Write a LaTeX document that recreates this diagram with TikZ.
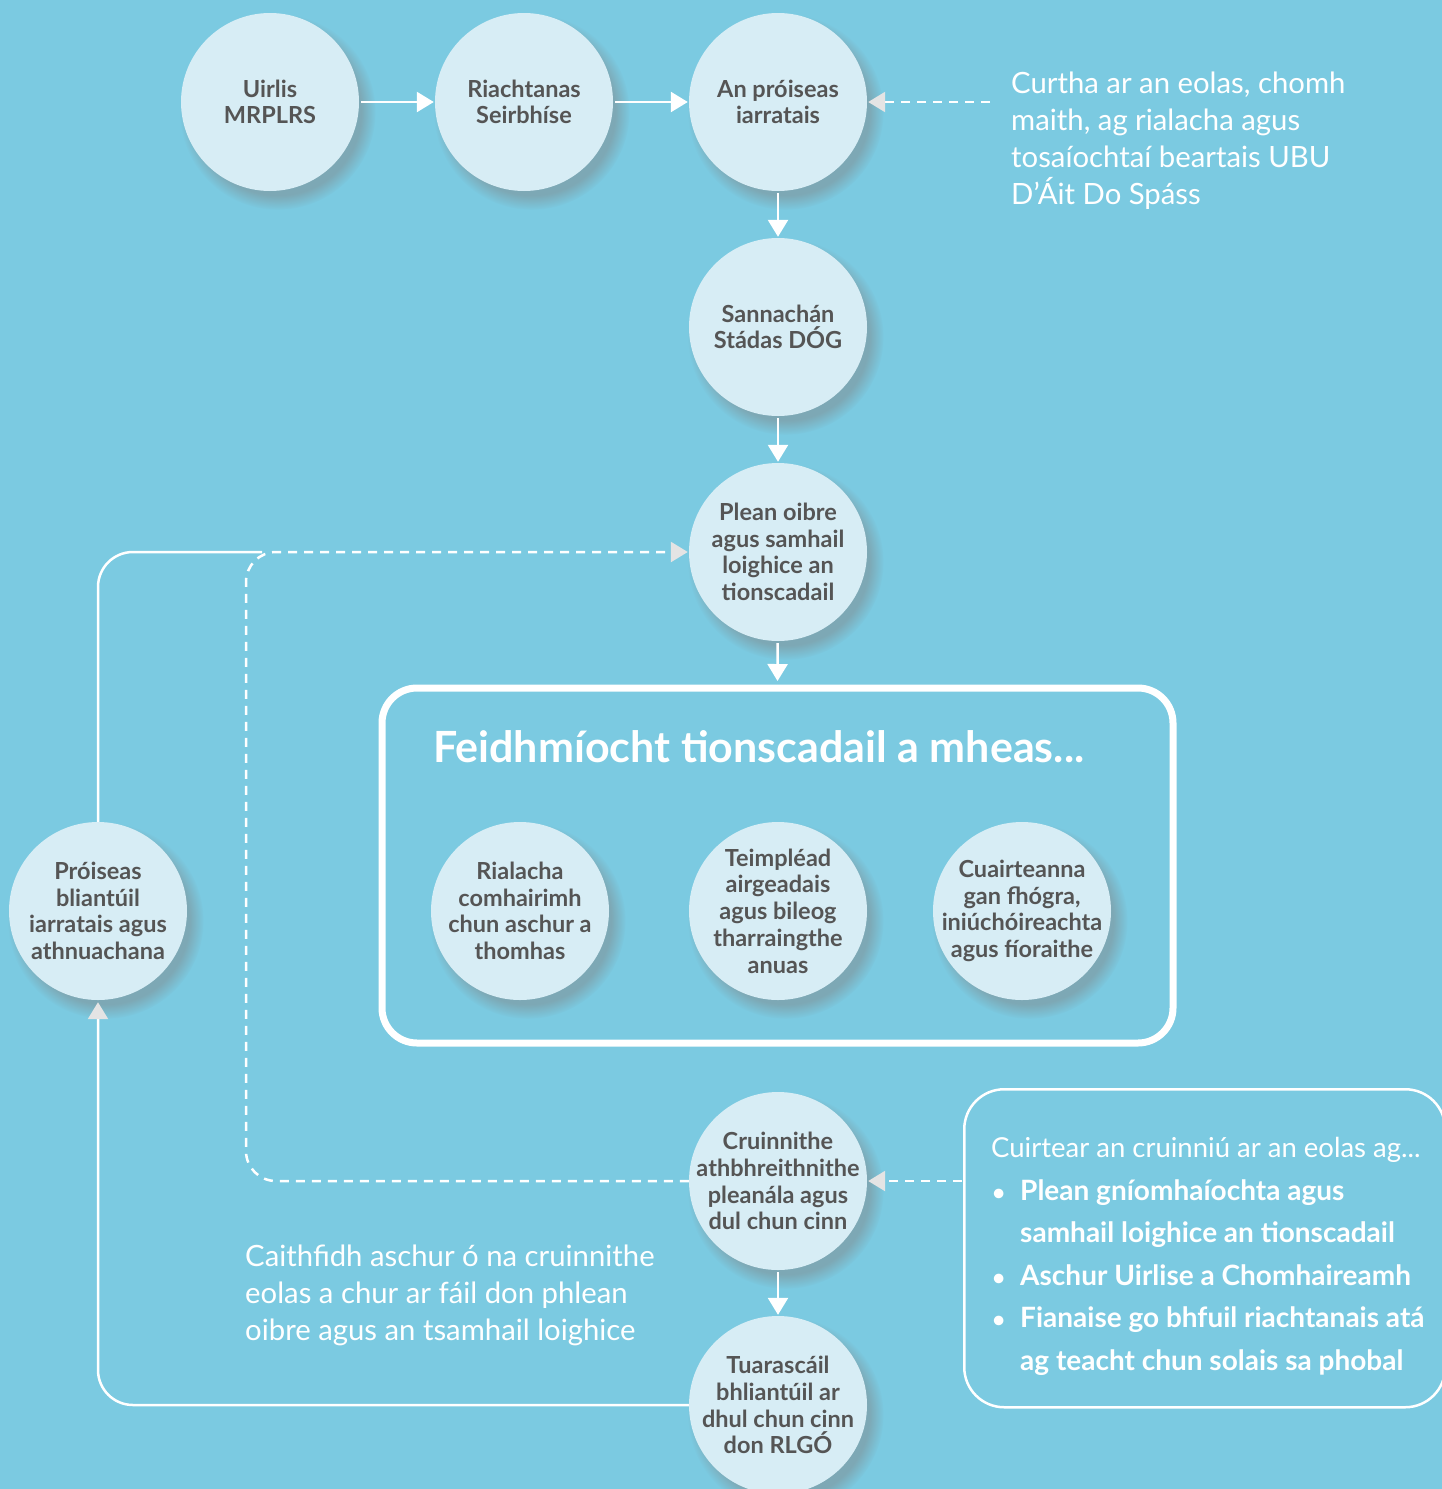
\documentclass[tikz,border=0pt]{standalone}
\usepackage{fontspec}
\setmainfont{Lato}
\usetikzlibrary{arrows.meta,shadows}
\definecolor{bg}{HTML}{7BCAE1}
\definecolor{circ}{HTML}{D7EDF5}
\definecolor{ctext}{HTML}{555555}
\definecolor{tipgray}{HTML}{E4E4E4}
\newcommand{\mybul}{\llap{{\fontsize{22}{22}\selectfont •}\hspace{15pt}}}
\begin{document}
\begin{tikzpicture}[x=1pt,y=-1pt,
  stage/.style={circle, fill=circ, minimum size=178pt, inner sep=-20pt, align=center,
    text=ctext, font=\bfseries\fontsize{23.5}{26.7}\selectfont,
    circular drop shadow={shadow xshift=7pt, shadow yshift=-9pt, shadow scale=1.1, opacity=0.45}},
  flow/.style={draw=white, line width=2.5pt, -{Triangle[width=20pt,length=17pt]}},
  flowg/.style={draw=white, line width=2.5pt, -{Triangle[width=20pt,length=17pt,color=tipgray]}},
  dflow/.style={flowg, dash pattern=on 9pt off 7pt},
  note/.style={anchor=north west, inner sep=0pt, align=left, text=white}
]
\fill[bg] (0,0) rectangle (1442,1489);
\useasboundingbox (0,0) rectangle (1442,1489);
\clip (0,0) rectangle (1442,1489);

% top row
\node[stage] (uirlis) at (270,102) {Uirlis\\MRPLRS};
\node[stage] (riach) at (524,102) {Riachtanas\\Seirbhíse};
\node[stage] (iarr) at (778,102) {An próiseas\\iarratais};
\node[stage] (sann) at (778,327) {Sannachán\\Stádas DÓG};
\node[stage] (plean) at (778,552) {Plean oibre\\agus samhail\\loighice an\\tionscadail};

% frame
\node[draw=white, line width=7pt, rounded corners=35pt, minimum width=791pt, minimum height=355pt, inner sep=0pt] (box) at (777.5,865.5) {};
\node[anchor=base west, inner sep=0pt, text=white, font=\bfseries\fontsize{43}{50}\selectfont] (title) at (433,762) {Feidhmíocht tionscadail a mheas...};

\node[stage] (rial) at (520,911) {Rialacha\\comhairimh\\chun aschur a\\thomhas};
\node[stage] (teimp) at (778,911) {Teimpléad\\airgeadais\\agus bileog\\tharraingthe\\anuas};
\node[stage] (cuairt) at (1022,911) {Cuairteanna\\gan fhógra,\\iniúchóireachta\\agus fíoraithe};

\node[stage] (proi) at (98,911) {Próiseas\\bliantúil\\iarratais agus\\athnuachana};

\node[stage] (cruin) at (778,1181) {Cruinnithe\\athbhreithnithe\\pleanála agus\\dul chun cinn};
\node[stage] (tuar) at (778,1405) {Tuarascáil\\bhliantúil ar\\dhul chun cinn\\don RLGÓ};

% notes
\node[note, font=\fontsize{29.3}{37}\selectfont] (note1) at (1011,72) {Curtha ar an eolas, chomh\\maith, ag rialacha agus\\tosaíochtaí beartais UBU\\D’Áit Do Spáss};
\node[note, font=\fontsize{29.3}{37}\selectfont] (note2) at (245,1245) {Caithfidh aschur ó na cruinnithe\\eolas a chur ar fáil don phlean\\oibre agus an tsamhail loighice};

\node[draw=white, line width=2.5pt, rounded corners=40pt, minimum width=481pt, minimum height=318pt, inner sep=0pt, anchor=north west] (infobox) at (963,1088) {};
\node[note, font=\fontsize{27.5}{30}\selectfont] (infohead) at (991,1137) {Cuirtear an cruinniú ar an eolas ag...};
\node[note, font=\bfseries\fontsize{28}{42.5}\selectfont] (infolist) at (1020,1179) {\mybul Plean gníomhaíochta agus\\samhail loighice an tionscadail\\\mybul Aschur Uirlise a Chomhaireamh\\\mybul Fianaise go bhfuil riachtanais atá\\ag teacht chun solais sa phobal};

% connectors
\draw[flow, shorten <=2pt, shorten >=1pt] (uirlis) -- (riach);
\draw[flow, shorten <=2pt, shorten >=1pt] (riach) -- (iarr);
\draw[flow, shorten <=2pt, shorten >=1pt] (iarr) -- (sann);
\draw[flow, shorten <=2pt, shorten >=1pt] (sann) -- (plean);
\draw[flow, shorten <=2pt, shorten >=3.5pt] (plean) -- (box.north);
\draw[flow, shorten <=2pt, shorten >=1pt] (cruin) -- (tuar);

\coordinate (n1) at (990,102);
\draw[dflow, shorten >=1pt] (n1) -- (iarr.east);
\coordinate (n2) at (962,1181);
\draw[dflow, shorten >=1pt] (n2) -- (cruin.east);

\coordinate (lc) at (246,552);
\coordinate (tc) at (262,552);
\draw[dflow, rounded corners=30pt, shorten >=1pt] (cruin.west) -| (lc) -- (plean.west);
\draw[flowg, rounded corners=35pt, shorten >=2pt] (tuar.west) -| (proi.south);
\draw[white, line width=2.5pt, rounded corners=35pt] (proi.north) |- (tc);
\end{tikzpicture}
\end{document}
